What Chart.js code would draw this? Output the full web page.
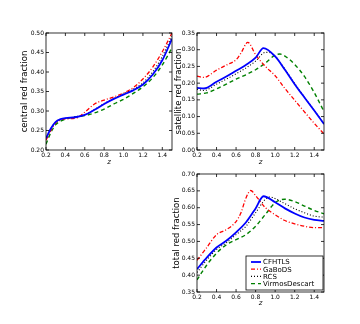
<!DOCTYPE html>
<html>
<head>
<meta charset="utf-8">
<script src="https://cdn.jsdelivr.net/npm/chart.js@4.4.0/dist/chart.umd.min.js"></script>
<style>
  html, body { margin: 0; padding: 0; background: #fff; }
  #wrap { position: relative; width: 360px; height: 324px; }
  #wrap canvas { position: absolute; left: 0; top: 0; }
</style>
</head>
<body>
<div id="wrap">
  <canvas id="centralChart" width="360" height="324"></canvas>
  <canvas id="satelliteChart" width="360" height="324"></canvas>
  <canvas id="totalChart" width="360" height="324"></canvas>
</div>
<script>
// tick labels
const zTicks = [0.2, 0.4, 0.6, 0.8, 1.0, 1.2, 1.4];
const centralTicks = [0.20, 0.25, 0.30, 0.35, 0.40, 0.45, 0.50];
const satelliteTicks = [0.00, 0.05, 0.10, 0.15, 0.20, 0.25, 0.30, 0.35];
const totalTicks = [0.35, 0.40, 0.45, 0.50, 0.55, 0.60, 0.65, 0.70];

const surveys = ['CFHTLS', 'GaBoDS', 'RCS', 'VirmosDescart'];

// central red fraction
const centralZ = [0.2, 0.25, 0.3, 0.35, 0.4, 0.5, 0.6, 0.7, 0.8, 0.9, 1.0, 1.1, 1.2, 1.3, 1.4, 1.5];
const centralCFHTLS = [0.230, 0.255, 0.272, 0.279, 0.282, 0.284, 0.290, 0.303, 0.318, 0.331, 0.342, 0.353, 0.368, 0.393, 0.430, 0.485];
const centralGaBoDS = [0.225, 0.250, 0.270, 0.277, 0.280, 0.281, 0.297, 0.318, 0.328, 0.336, 0.346, 0.360, 0.382, 0.412, 0.452, 0.500];
const centralRCS    = [0.228, 0.254, 0.271, 0.278, 0.281, 0.284, 0.290, 0.304, 0.319, 0.332, 0.344, 0.356, 0.372, 0.400, 0.440, 0.492];
const centralVirmos = [0.215, 0.245, 0.265, 0.274, 0.279, 0.285, 0.288, 0.295, 0.305, 0.318, 0.330, 0.345, 0.362, 0.385, 0.418, 0.462];

// satellite red fraction
const satCFHTLSZ = [0.2, 0.27, 0.4, 0.5, 0.6, 0.7, 0.8, 0.88, 1.0, 1.1, 1.2, 1.3, 1.4, 1.5];
const satCFHTLS  = [0.186, 0.184, 0.204, 0.220, 0.237, 0.254, 0.276, 0.305, 0.280, 0.240, 0.197, 0.157, 0.118, 0.078];
const satGaBoDSZ = [0.2, 0.27, 0.4, 0.5, 0.6, 0.65, 0.72, 0.8, 0.9, 1.0, 1.1, 1.2, 1.3, 1.4, 1.5];
const satGaBoDS  = [0.221, 0.217, 0.239, 0.254, 0.270, 0.290, 0.322, 0.285, 0.250, 0.222, 0.184, 0.149, 0.114, 0.080, 0.048];
const satRCSZ    = [0.2, 0.27, 0.4, 0.5, 0.6, 0.7, 0.8, 0.9, 0.95, 1.0, 1.1, 1.2, 1.3, 1.4, 1.5];
const satRCS     = [0.182, 0.178, 0.197, 0.212, 0.228, 0.245, 0.266, 0.292, 0.291, 0.280, 0.242, 0.199, 0.158, 0.119, 0.078];
const satVirmosZ = [0.2, 0.3, 0.4, 0.5, 0.6, 0.7, 0.8, 0.9, 1.0, 1.05, 1.1, 1.2, 1.3, 1.4, 1.5];
const satVirmos  = [0.167, 0.171, 0.183, 0.197, 0.212, 0.225, 0.240, 0.260, 0.284, 0.287, 0.281, 0.256, 0.220, 0.172, 0.115];

// total red fraction
const totCFHTLSZ = [0.2, 0.3, 0.4, 0.5, 0.6, 0.7, 0.8, 0.88, 1.0, 1.1, 1.2, 1.3, 1.4, 1.5];
const totCFHTLS  = [0.418, 0.452, 0.482, 0.502, 0.527, 0.556, 0.598, 0.634, 0.616, 0.598, 0.583, 0.571, 0.564, 0.561];
const totGaBoDSZ = [0.2, 0.3, 0.4, 0.5, 0.6, 0.65, 0.7, 0.75, 0.8, 0.9, 1.0, 1.1, 1.2, 1.3, 1.4, 1.5];
const totGaBoDS  = [0.444, 0.482, 0.520, 0.535, 0.559, 0.585, 0.628, 0.651, 0.636, 0.600, 0.579, 0.562, 0.552, 0.545, 0.541, 0.541];
const totRCSZ    = [0.2, 0.3, 0.4, 0.5, 0.6, 0.7, 0.8, 0.9, 0.95, 1.0, 1.1, 1.2, 1.3, 1.4, 1.5];
const totRCS     = [0.408, 0.445, 0.476, 0.496, 0.520, 0.545, 0.585, 0.625, 0.632, 0.627, 0.612, 0.597, 0.585, 0.575, 0.572];
const totVirmosZ = [0.2, 0.3, 0.4, 0.5, 0.6, 0.7, 0.8, 0.9, 1.0, 1.1, 1.2, 1.3, 1.4, 1.5];
const totVirmos  = [0.386, 0.430, 0.465, 0.490, 0.505, 0.520, 0.545, 0.580, 0.615, 0.625, 0.618, 0.605, 0.592, 0.582];

const styles = [
  { color: '#0000ff', width: 1.8, dash: [] },
  { color: '#ff0000', width: 1.3, dash: [4, 2, 1, 2] },
  { color: '#000000', width: 1.1, dash: [1, 2] },
  { color: '#008000', width: 1.4, dash: [4, 3] }
];

const FONT = 'DejaVu Sans';

function pts(zs, vs) {
  return zs.map((z, i) => ({ x: z, y: vs[i] }));
}

function makeSets(series) {
  return series.map((s, i) => ({
    label: surveys[i],
    data: s,
    borderColor: styles[i].color,
    borderWidth: styles[i].width,
    borderDash: styles[i].dash,
    pointRadius: 0,
    fill: false,
    cubicInterpolationMode: 'monotone'
  }));
}

// frame + inward ticks like matplotlib
const framePlugin = {
  id: 'frame',
  afterDatasetsDraw(chart) {
    const { ctx, chartArea: a, scales } = chart;
    ctx.save();
    ctx.strokeStyle = '#000';
    ctx.lineWidth = 0.8;
    ctx.setLineDash([]);
    ctx.strokeRect(a.left, a.top, a.right - a.left, a.bottom - a.top);
    const len = 3;
    ctx.beginPath();
    scales.x.ticks.forEach(t => {
      const px = scales.x.getPixelForValue(t.value);
      ctx.moveTo(px, a.bottom); ctx.lineTo(px, a.bottom - len);
      ctx.moveTo(px, a.top); ctx.lineTo(px, a.top + len);
    });
    scales.y.ticks.forEach(t => {
      const py = scales.y.getPixelForValue(t.value);
      ctx.moveTo(a.left, py); ctx.lineTo(a.left + len, py);
      ctx.moveTo(a.right, py); ctx.lineTo(a.right - len, py);
    });
    ctx.stroke();
    ctx.restore();
  }
};

const legendPlugin = {
  id: 'boxLegend',
  afterDatasetsDraw(chart, args, opts) {
    if (!opts.show) return;
    const { ctx } = chart;
    const x0 = 246, y0 = 256, w = 77, h = 34;
    ctx.save();
    ctx.fillStyle = '#fff';
    ctx.fillRect(x0, y0, w, h);
    ctx.strokeStyle = '#000';
    ctx.lineWidth = 0.8;
    ctx.strokeRect(x0, y0, w, h);
    ctx.font = '7px "' + FONT + '"';
    ctx.textBaseline = 'middle';
    chart.data.datasets.forEach((ds, i) => {
      const yy = y0 + 6 + i * 7.2;
      ctx.strokeStyle = ds.borderColor;
      ctx.lineWidth = ds.borderWidth;
      ctx.setLineDash(ds.borderDash);
      ctx.beginPath();
      ctx.moveTo(x0 + 5, yy); ctx.lineTo(x0 + 15, yy);
      ctx.stroke();
      ctx.fillStyle = '#000';
      ctx.fillText(ds.label, x0 + 17, yy + 0.5);
    });
    ctx.restore();
  }
};

function panel(id, series, yTicks, yTitle, pad, yWidth, xHeight, showLegend) {
  new Chart(document.getElementById(id), {
    type: 'line',
    data: { datasets: makeSets(series) },
    plugins: [framePlugin, legendPlugin],
    options: {
      responsive: false,
      animation: false,
      events: [],
      layout: { padding: pad },
      plugins: {
        legend: { display: false },
        tooltip: { enabled: false },
        boxLegend: { show: showLegend }
      },
      scales: {
        x: {
          type: 'linear',
          min: 0.2,
          max: 1.5,
          afterBuildTicks: s => { s.ticks = zTicks.map(v => ({ value: v })); },
          afterFit: s => { s.height = xHeight; },
          grid: { display: false, drawTicks: false },
          border: { display: false },
          ticks: {
            color: '#000',
            padding: 2,
            maxRotation: 0,
            autoSkip: false,
            font: { family: FONT, size: 6 },
            callback: v => v.toFixed(1)
          },
          title: {
            display: true,
            text: 'z',
            color: '#000',
            padding: 0,
            font: { family: FONT, size: 7, style: 'italic' }
          }
        },
        y: {
          min: yTicks[0],
          max: yTicks[yTicks.length - 1],
          afterBuildTicks: s => { s.ticks = yTicks.map(v => ({ value: v })); },
          afterFit: s => { s.width = yWidth; },
          grid: { display: false, drawTicks: false },
          border: { display: false },
          ticks: {
            color: '#000',
            padding: 2,
            autoSkip: false,
            font: { family: FONT, size: 6 },
            callback: v => v.toFixed(2)
          },
          title: {
            display: true,
            text: yTitle,
            color: '#000',
            padding: 0,
            font: { family: FONT, size: 8.5 }
          }
        }
      }
    }
  });
}

panel('centralChart', [
  pts(centralZ, centralCFHTLS),
  pts(centralZ, centralGaBoDS),
  pts(centralZ, centralRCS),
  pts(centralZ, centralVirmos)
], centralTicks, 'central red fraction',
  { left: 20, top: 33, right: 188, bottom: 158 }, 26, 16, false);

panel('satelliteChart', [
  pts(satCFHTLSZ, satCFHTLS),
  pts(satGaBoDSZ, satGaBoDS),
  pts(satRCSZ, satRCS),
  pts(satVirmosZ, satVirmos)
], satelliteTicks, 'satellite red fraction',
  { left: 174, top: 33, right: 36, bottom: 158 }, 23, 16, false);

panel('totalChart', [
  pts(totCFHTLSZ, totCFHTLS),
  pts(totGaBoDSZ, totGaBoDS),
  pts(totRCSZ, totRCS),
  pts(totVirmosZ, totVirmos)
], totalTicks, 'total red fraction',
  { left: 172, top: 174, right: 36, bottom: 17 }, 25, 15, true);
</script>
</body>
</html>
